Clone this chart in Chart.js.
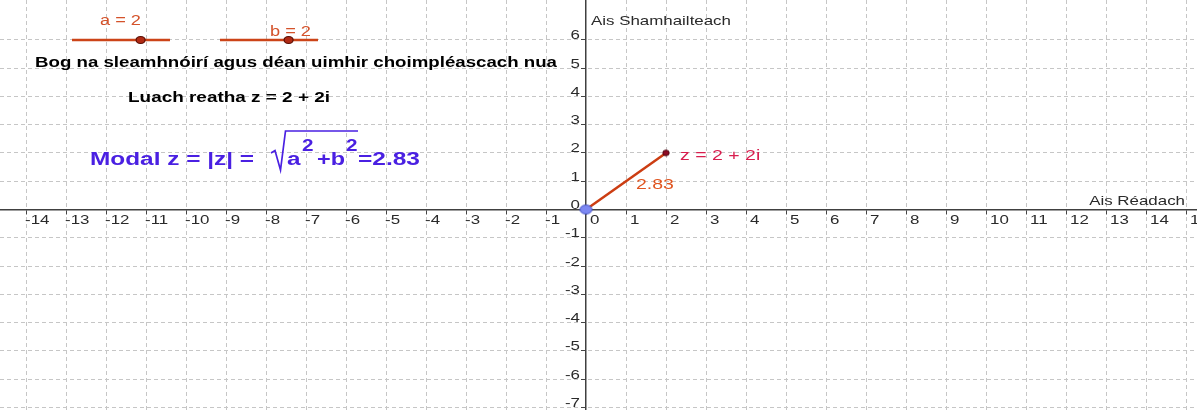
<!DOCTYPE html>
<html>
<head>
<meta charset="utf-8">
<script src="https://cdn.jsdelivr.net/npm/chart.js@4/dist/chart.umd.min.js"></script>
<style>
  html, body { margin: 0; padding: 0; background: #ffffff; }
  #wrap { width: 1197px; height: 410px; position: relative; }
</style>
</head>
<body>
<div id="wrap"><canvas id="c" width="1197" height="410"></canvas></div>
<script>
// ---- data ----
const sliderNames = ['a', 'b'];
const sliderValues = [2, 2];
const sliderRange = [-5, 5];
const xTicks = [-14, -13, -12, -11, -10, -9, -8, -7, -6, -5, -4, -3, -2, -1, 0, 1, 2, 3, 4, 5, 6, 7, 8, 9, 10, 11, 12, 13, 14, 15];
const yTicks = [-7, -6, -5, -4, -3, -2, -1, 0, 1, 2, 3, 4, 5, 6];
const xRange = [-14.65, 15.275];
const yRange = [-7.085, 7.403];
const axisTitles = ['Ais Réadach', 'Ais Shamhailteach'];
const instructionText = 'Bog na sleamhnóirí agus déan uimhir choimpléascach nua';

const aVal = sliderValues[0];
const bVal = sliderValues[1];
const segmentX = [0, aVal];
const segmentY = [0, bVal];
const modulus = Math.sqrt(aVal * aVal + bVal * bVal);
const zLabel = 'z = ' + aVal + ' + ' + bVal + 'i';

// ---- helpers ----
const SX = 1.3; // horizontal stretch of the original picture
const FONT = '"Liberation Sans", Arial, sans-serif';

function ellipseImage(rx, ry, fill, stroke, lw) {
  const cv = document.createElement('canvas');
  cv.width = Math.ceil(rx * 2 + lw + 2);
  cv.height = Math.ceil(ry * 2 + lw + 2);
  const g = cv.getContext('2d');
  g.beginPath();
  g.ellipse(cv.width / 2, cv.height / 2, rx, ry, 0, 0, Math.PI * 2);
  g.fillStyle = fill; g.fill();
  g.lineWidth = lw; g.strokeStyle = stroke; g.stroke();
  return cv;
}

// draws text with a horizontal stretch; if opts.width is given the text is fitted to it
function text(ctx, str, x, y, size, color, opts) {
  opts = opts || {};
  ctx.save();
  ctx.font = (opts.bold ? 'bold ' : '') + size + 'px ' + FONT;
  ctx.fillStyle = color;
  ctx.textBaseline = 'alphabetic';
  ctx.textAlign = opts.align || 'left';
  const mw = ctx.measureText(str).width;
  const sx = opts.width ? opts.width / mw : SX;
  ctx.translate(x, y);
  ctx.scale(sx, 1);
  ctx.fillText(str, 0, 0);
  ctx.restore();
  return mw * sx;
}

const overlay = {
  id: 'overlay',
  afterDraw(chart) {
    const ctx = chart.ctx;
    const xs = chart.scales.x, ys = chart.scales.y;
    const ox = xs.getPixelForValue(0), oy = ys.getPixelForValue(0);

    // tick labels
    xs.ticks.forEach(t => {
      const v = t.value;
      const px = xs.getPixelForValue(v);
      text(ctx, String(v), v < 0 ? px - 1 : px + 4, oy + 15, 13, '#2a2a2a');
    });
    ys.ticks.forEach(t => {
      const v = t.value;
      const py = ys.getPixelForValue(v);
      text(ctx, String(v), ox - 6, py - 0.5, 13, '#2a2a2a', {align: 'right'});
    });

    // axis titles
    text(ctx, axisTitles[1], ox + 5, 25, 13, '#2a2a2a');
    text(ctx, axisTitles[0], chart.chartArea.right - 12, oy - 4, 13, '#2a2a2a', {align: 'right'});

    // sliders
    const sliders = [
      {x1: 72, x2: 170, y: 40, lx: 100, ly: 25},
      {x1: 220, x2: 318, y: 40, lx: 270, ly: 36}
    ];
    sliders.forEach((s, i) => {
      ctx.save();
      ctx.strokeStyle = '#cc4418';
      ctx.lineWidth = 2.5;
      ctx.beginPath(); ctx.moveTo(s.x1, s.y); ctx.lineTo(s.x2, s.y); ctx.stroke();
      const f = (sliderValues[i] - sliderRange[0]) / (sliderRange[1] - sliderRange[0]);
      const px = s.x1 + f * (s.x2 - s.x1);
      ctx.beginPath();
      ctx.ellipse(px, s.y, 4.5, 3.5, 0, 0, Math.PI * 2);
      ctx.fillStyle = '#b02a14'; ctx.fill();
      ctx.lineWidth = 1.2; ctx.strokeStyle = '#5a0f05'; ctx.stroke();
      ctx.restore();
      text(ctx, sliderNames[i] + ' = ' + sliderValues[i], s.lx, s.ly, 14, '#d4522a');
    });

    // instruction texts
    text(ctx, instructionText, 35, 67, 15, '#000', {bold: true, width: 522});
    text(ctx, 'Luach reatha ' + zLabel, 128, 102, 15, '#000', {bold: true, width: 202});

    // modulus formula
    const blue = '#4a20e2';
    text(ctx, 'Modal z = |z| =', 90, 165, 18, blue, {bold: true, width: 164});
    ctx.save();
    ctx.strokeStyle = blue; ctx.lineWidth = 1.7; ctx.lineJoin = 'miter';
    ctx.beginPath();
    ctx.moveTo(271, 153); ctx.lineTo(275, 150.5); ctx.lineTo(280.5, 170);
    ctx.lineTo(285.5, 131); ctx.lineTo(358, 131);
    ctx.stroke();
    ctx.restore();
    text(ctx, 'a', 287, 165, 18, blue, {bold: true, width: 13.5});
    text(ctx, '2', 302, 151, 17, blue, {bold: true, width: 11.5});
    text(ctx, '+b', 317, 165, 18, blue, {bold: true, width: 28});
    text(ctx, '2', 346, 151, 17, blue, {bold: true, width: 11.5});
    text(ctx, '=' + modulus.toFixed(2), 358, 165, 18, blue, {bold: true, width: 62});

    // point label and segment length
    const zx = xs.getPixelForValue(aVal), zy = ys.getPixelForValue(bVal);
    text(ctx, zLabel, zx + 14, zy + 7, 15, '#d81e4e');
    text(ctx, modulus.toFixed(2), (ox + zx) / 2 + 10, (oy + zy) / 2 + 8, 15, '#e0541f');
  }
};

const gridColor = c => (c.tick && c.tick.value === 0) ? 'rgba(0,0,0,0)' : '#c6c6c6';

new Chart(document.getElementById('c'), {
  type: 'scatter',
  data: {
    datasets: [
      {
        data: segmentX.map((v, i) => ({x: v, y: segmentY[i]})),
        showLine: true,
        borderColor: '#cc3d12',
        borderWidth: 2.5,
        pointRadius: 0,
        order: 3
      },
      {
        data: [{x: segmentX[1], y: segmentY[1]}],
        pointStyle: ellipseImage(3.2, 2.8, '#8e0c24', '#4a0410', 1),
        pointRadius: 4,
        order: 2
      },
      {
        data: [{x: segmentX[0], y: segmentY[0]}],
        pointStyle: ellipseImage(6, 4.5, '#7d88f2', '#4654c4', 1),
        pointRadius: 6,
        order: 1
      }
    ]
  },
  options: {
    responsive: false,
    animation: false,
    events: [],
    layout: {padding: 0, autoPadding: false},
    plugins: {legend: {display: false}, tooltip: {enabled: false}},
    scales: {
      x: {
        type: 'linear',
        min: xRange[0], max: xRange[1],
        position: {y: 0},
        afterBuildTicks: s => { s.ticks = xTicks.map(v => ({value: v})); },
        afterFit: s => { s.height = 0; },
        ticks: {display: false},
        grid: {color: gridColor, lineWidth: 1, drawTicks: true, tickLength: 4, tickColor: '#444', tickWidth: 1, tickBorderDash: []},
        border: {display: true, color: '#404040', width: 1.5, dash: [4, 3]}
      },
      y: {
        type: 'linear',
        min: yRange[0], max: yRange[1],
        position: {x: 0},
        afterBuildTicks: s => { s.ticks = yTicks.map(v => ({value: v})); },
        afterFit: s => { s.width = 0; },
        ticks: {display: false},
        grid: {color: gridColor, lineWidth: 1, drawTicks: true, tickLength: 4, tickColor: '#444', tickWidth: 1, tickBorderDash: []},
        border: {display: true, color: '#404040', width: 1.5, dash: [4, 3]}
      }
    }
  },
  plugins: [overlay]
});
</script>
</body>
</html>
